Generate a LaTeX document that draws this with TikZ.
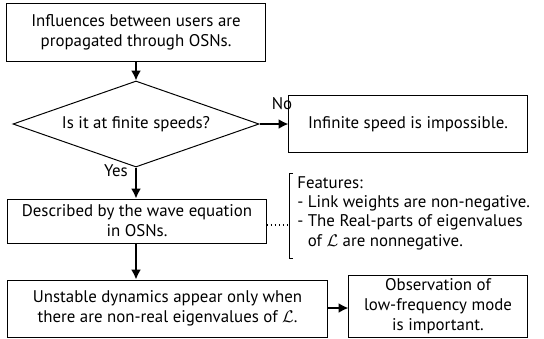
\documentclass[tikz,border=0pt]{standalone}
\usepackage{fontspec}
\setmainfont{PT Sans}
\usepackage{tikz}
\usetikzlibrary{shapes.geometric}
\usetikzlibrary{arrows.meta}
\tikzset{>={Latex[width=7pt,length=7pt]}}

\begin{document}
\begin{tikzpicture}[x=0.025cm, y=-0.025cm,
  box/.style={draw, line width=0.7pt, align=center, inner sep=0pt},
  flow/.style={->, line width=1.3pt},
  lbl/.style={inner sep=0pt}]

\fontsize{12}{14.2}\selectfont

\useasboundingbox (0,0) rectangle (544,338); %% spacing

\node[box, minimum width=6.45cm, minimum height=1.45cm] (start) at (136,32)
  {Influences between users are\\propagated through OSNs.};
\node[box, shape=diamond, aspect=2.86, minimum width=6.15cm, minimum height=2.15cm]
  (finite) at (136,124) {Is it at finite speeds?};
\node[box, minimum width=5.95cm, minimum height=1.425cm] (impossible) at (408,124)
  {Infinite speed is impossible.};
\node[box, minimum width=6.45cm, minimum height=1.1cm] (wave) at (137,221)
  {Described by the wave equation\\in OSNs.};
\node[box, minimum width=7.975cm, minimum height=1.425cm] (unstable) at (167.5,308.5)
  {Unstable dynamics appear only when\\there are non-real eigenvalues of $\mathcal{L}$.};
\node[box, minimum width=4.45cm, minimum height=1.55cm] (observe) at (438,306)
  {Observation of\\low-frequency mode\\is important.};

%% features bracket
\coordinate (brk) at (289,225);
\draw[line width=0.6pt] (293,173) -- (289,173) -- (289,258) -- (293,258);
\node[lbl, anchor=north west, align=left, font=\fontsize{12}{13.8}\selectfont]
  (features) at (297,176)
  {Features:\\- Link weights are non-negative.\\- The Real-parts of eigenvalues\\
   \phantom{- }of $\mathcal{L}$ are nonnegative.};
\draw[line width=0.9pt, dotted] (wave.east |- brk) -- (brk);

\draw[flow] (start) -- (finite);
\draw[flow] (finite.east) -- node[lbl, xshift=0.2cm, yshift=0.52cm]{No} (impossible.west);
\draw[flow] (finite.south) -- node[lbl, xshift=-0.5cm, yshift=0.3cm]{Yes} (wave.north -| finite.south);
\draw[flow] (wave.south -| finite.south) -- (unstable.north -| finite.south);
\draw[flow] (unstable.east |- 0,308) -- (observe.west |- 0,308);

\end{tikzpicture}
\end{document}
